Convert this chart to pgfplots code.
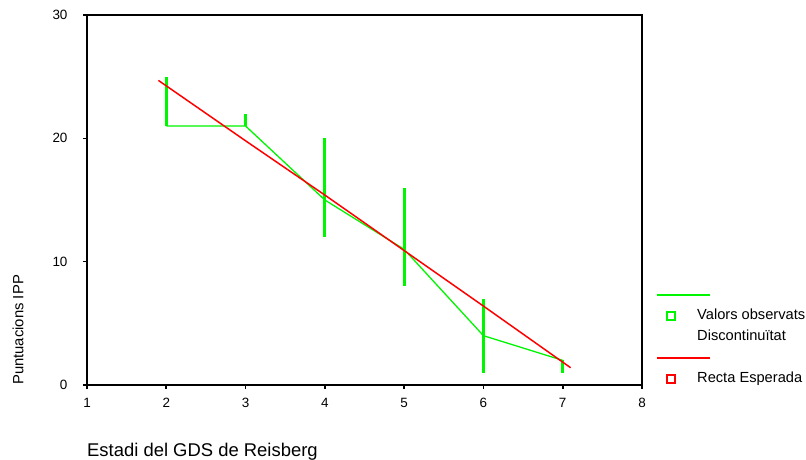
\documentclass[border=0pt]{standalone}
\usepackage{fontspec}
\setmainfont{Liberation Sans}
\usepackage{pgfplots}
\pgfplotsset{compat=1.18}
\definecolor{obsgreen}{RGB}{0,245,0}
\definecolor{fitred}{RGB}{255,0,0}

\pgfplotsset{
  longline legend/.style={legend image code/.code={%
    \path[draw=none,fill=none] (0bp,-4bp) rectangle (8bp,4bp);
    \draw[overlay,##1] (-10bp,0bp) -- (43bp,0bp);}},
  square legend/.style={legend image code/.code={%
    \path[draw=none,fill=none] (0bp,-4bp) rectangle (8bp,4bp);
    \draw[##1] plot[only marks, mark=square, mark size=4bp] coordinates {(4bp,0bp)};}},
  blank legend/.style={legend image code/.code={%
    \path[draw=none,fill=none] (0bp,-4bp) rectangle (8bp,4bp);}},
}

% high-low ranges per stage
\pgfplotstableread{
x y
2 21
2 25
nan nan
3 21
3 22
nan nan
4 12
4 20
nan nan
5 8
5 16
nan nan
6 1
6 7
nan nan
7 1
7 2
}\ranges

\begin{document}
\begin{tikzpicture}
\useasboundingbox (-87bp,-75bp) rectangle (719bp,385bp);
\begin{axis}[scale only axis, width=555bp, height=370bp,
  xmin=1, xmax=8, ymin=0, ymax=30,
  xtick={1,2,3,4,5,6,7,8}, ytick={0,10,20,30},
  xtick pos=lower, ytick pos=left, tick align=outside,
  major tick length=4bp,
  tick style={black, line width=1.6pt},
  axis line style={black, line width=1.2pt},
  font=\fontsize{13.5}{16}\selectfont,
  /pgf/number format/assume math mode=true,
  yticklabel style={xshift=-12bp},
  xticklabel style={yshift=-6bp},
  xlabel={Estadi del GDS de Reisberg},
  ylabel={Puntuacions IPP},
  xlabel style={at={(axis description cs:0,-0.181)}, anchor=west, inner sep=0pt,
    font=\fontsize{18.5}{20}\selectfont},
  ylabel style={at={(axis description cs:-0.124,0)}, anchor=west, inner sep=0pt,
    font=\fontsize{14.9}{17}\selectfont},
  unbounded coords=jump,
  legend cell align=left,
  legend style={at={(rel axis cs:1,0.261)}, anchor=north west, xshift=25bp,
    draw=none, fill=none, inner sep=0pt, column sep=22bp, row sep=8bp,
    font=\fontsize{14.7}{17}\selectfont,
    nodes={inner sep=0pt, text height=10bp, text depth=3bp}},
]
\addplot[obsgreen, line width=3pt, forget plot] table {\ranges};
\addplot[obsgreen, line width=1.3pt, forget plot] coordinates {(2,21)(3,21)(4,15)(5,11)(6,4)(7,2)};
\addplot[fitred, line width=1.5pt, forget plot] coordinates {(1.9,24.7)(3,19.8)(4,15.4)(5,10.9)(6,6.4)(7.1,1.4)};
\addlegendimage{obsgreen, line width=1.3pt, longline legend}
\addlegendentry{}
\addlegendimage{obsgreen, line width=1.7pt, square legend}
\addlegendentry{Valors observats}
\addlegendimage{blank legend}
\addlegendentry{Discontinuïtat}
\addlegendimage{fitred, line width=1.3pt, longline legend}
\addlegendentry{}
\addlegendimage{fitred, line width=1.7pt, square legend}
\addlegendentry{Recta Esperada}
\end{axis}
\end{tikzpicture}
\end{document}
